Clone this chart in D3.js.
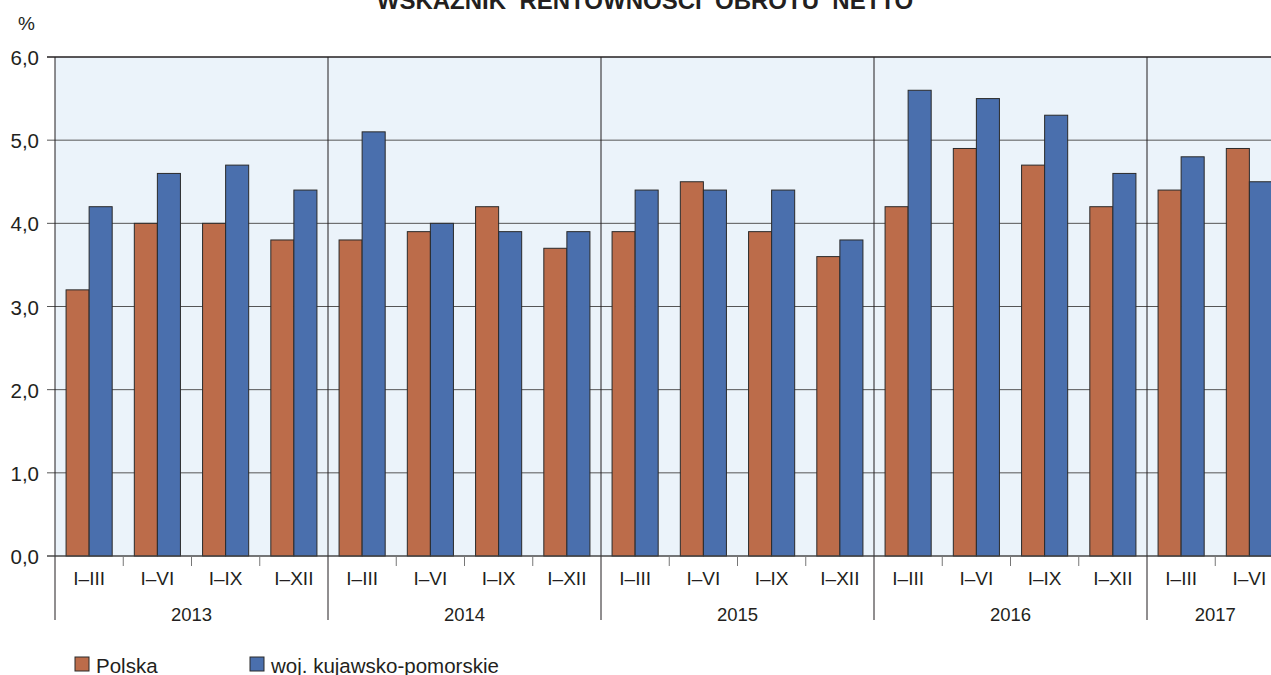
<!DOCTYPE html>
<html>
<head>
<meta charset="utf-8">
<script src="https://cdn.jsdelivr.net/npm/d3@7"></script>
<style>
  body { margin: 0; background: #fff; }
  svg { display: block; font-family: "Liberation Sans", Arial, sans-serif; }
</style>
</head>
<body>
<svg id="chart" width="1271" height="675"></svg>
<script>
// data
const years = ["2013", "2014", "2015", "2016", "2017"];
const periods = ["I–III", "I–VI", "I–IX", "I–XII",
                 "I–III", "I–VI", "I–IX", "I–XII",
                 "I–III", "I–VI", "I–IX", "I–XII",
                 "I–III", "I–VI", "I–IX", "I–XII",
                 "I–III", "I–VI"];
const periodYear = [0,0,0,0, 1,1,1,1, 2,2,2,2, 3,3,3,3, 4,4];
const polska = [3.2, 4.0, 4.0, 3.8, 3.8, 3.9, 4.2, 3.7, 3.9, 4.5, 3.9, 3.6, 4.2, 4.9, 4.7, 4.2, 4.4, 4.9];
const kujPom = [4.2, 4.6, 4.7, 4.4, 5.1, 4.0, 3.9, 3.9, 4.4, 4.4, 4.4, 3.8, 5.6, 5.5, 5.3, 4.6, 4.8, 4.5];
const seriesNames = ["Polska", "woj. kujawsko-pomorskie"];
const seriesColors = ["#BC6C4A", "#4A6FAD"];
const yTicks = [0, 1, 2, 3, 4, 5, 6];

const svg = d3.select("#chart");
const plotLeft = 55, plotTop = 57, plotBottom = 556;
const step = 68.25; // one period
const plotRight = plotLeft + periods.length * step; // chart continues past the picture edge
const ink = "#231f20";

const x = d3.scaleBand()
    .domain(d3.range(periods.length))
    .range([plotLeft, plotRight]);

const xs = d3.scaleBand()
    .domain([0, 1])
    .range([0, x.bandwidth()])
    .paddingOuter(0.48);

const y = d3.scaleLinear().domain([0, 6]).range([plotBottom, plotTop]);

// title, partly cut off at the top (as in the source)
svg.append("text")
    .attr("x", 645).attr("y", 9)
    .attr("text-anchor", "middle")
    .attr("font-weight", "bold")
    .attr("font-size", 24)
    .attr("fill", ink)
    .style("white-space", "pre")
    .text("WSKAŹNIK  RENTOWNOŚCI  OBROTU  NETTO");

svg.append("text")
    .attr("x", 18).attr("y", 30)
    .attr("font-size", 19)
    .attr("fill", ink)
    .text("%");

// plot background
svg.append("rect")
    .attr("x", plotLeft).attr("y", plotTop)
    .attr("width", plotRight - plotLeft).attr("height", plotBottom - plotTop)
    .attr("fill", "#EBF3FA");

// horizontal grid
svg.append("g")
    .selectAll("line")
    .data(yTicks)
    .join("line")
    .attr("x1", plotLeft - 8).attr("x2", plotRight)
    .attr("y1", d => y(d)).attr("y2", d => y(d))
    .attr("stroke", d => d === 6 ? ink : "#555")
    .attr("stroke-width", d => d === 6 ? 1.5 : 1);

// y labels
svg.append("g")
    .selectAll("text")
    .data(yTicks)
    .join("text")
    .attr("x", 39).attr("y", d => y(d) + 8)
    .attr("text-anchor", "end")
    .attr("font-size", 20.5)
    .attr("fill", ink)
    .text(d => d3.format(".1f")(d).replace(".", ","));

// year separators (through plot and down into the axis)
const yearStarts = years.map((yr, i) => periodYear.indexOf(i));
svg.append("g")
    .selectAll("line")
    .data(yearStarts.slice(1))
    .join("line")
    .attr("x1", d => x(d)).attr("x2", d => x(d))
    .attr("y1", plotTop).attr("y2", 620)
    .attr("stroke", ink)
    .attr("stroke-width", 1);

// bars
const groups = svg.append("g")
    .selectAll("g")
    .data(periods.map((p, i) => ({ i, vals: [polska[i], kujPom[i]] })))
    .join("g")
    .attr("transform", d => `translate(${x(d.i)},0)`);

groups.selectAll("rect")
    .data(d => d.vals.map((v, s) => ({ v, s })))
    .join("rect")
    .attr("x", d => xs(d.s))
    .attr("y", d => y(d.v))
    .attr("width", xs.bandwidth())
    .attr("height", d => y(0) - y(d.v))
    .attr("fill", d => seriesColors[d.s])
    .attr("stroke", "#2a2a2a")
    .attr("stroke-width", 1);

// left axis line
svg.append("line")
    .attr("x1", plotLeft).attr("x2", plotLeft)
    .attr("y1", plotTop).attr("y2", 620)
    .attr("stroke", ink);

// zero line
svg.append("line")
    .attr("x1", plotLeft - 8).attr("x2", plotRight)
    .attr("y1", y(0)).attr("y2", y(0))
    .attr("stroke", "#444");

// small ticks between periods inside a year
const minor = d3.range(1, periods.length).filter(i => periodYear[i] === periodYear[i - 1]);
svg.append("g")
    .selectAll("line")
    .data(minor)
    .join("line")
    .attr("x1", d => x(d)).attr("x2", d => x(d))
    .attr("y1", plotBottom).attr("y2", plotBottom + 10)
    .attr("stroke", "#777");

// period labels
svg.append("g")
    .selectAll("text")
    .data(periods)
    .join("text")
    .attr("x", (d, i) => x(i) + x.bandwidth() / 2)
    .attr("y", 585)
    .attr("text-anchor", "middle")
    .attr("font-size", 19)
    .attr("fill", ink)
    .text(d => d);

// year labels
svg.append("g")
    .selectAll("text")
    .data(years)
    .join("text")
    .attr("x", (d, i) => {
        const idx = d3.range(periods.length).filter(j => periodYear[j] === i);
        return (x(idx[0]) + x(idx[idx.length - 1]) + x.bandwidth()) / 2;
    })
    .attr("y", 621)
    .attr("text-anchor", "middle")
    .attr("font-size", 18.5)
    .attr("fill", ink)
    .text(d => d);

// legend
const legendX = [75, 250];
const legend = svg.append("g")
    .selectAll("g")
    .data(seriesNames)
    .join("g")
    .attr("transform", (d, i) => `translate(${legendX[i]},657)`);

legend.append("rect")
    .attr("width", 14).attr("height", 14)
    .attr("fill", (d, i) => seriesColors[i])
    .attr("stroke", "#2a2a2a");

legend.append("text")
    .attr("x", 21).attr("y", 16)
    .attr("font-size", 20.5)
    .attr("fill", ink)
    .text(d => d);
</script>
</body>
</html>
